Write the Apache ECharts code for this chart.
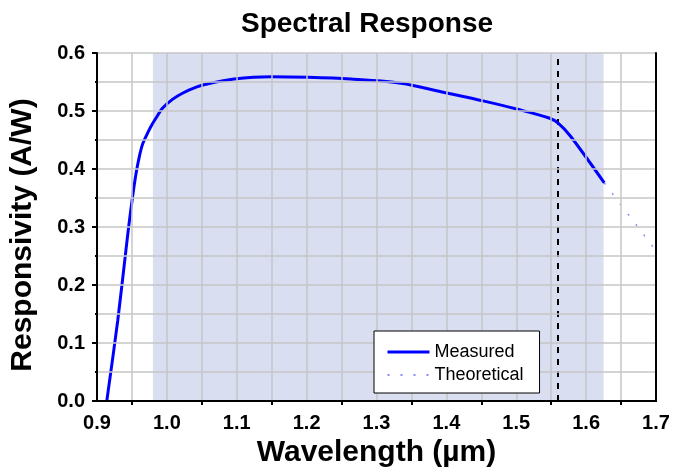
<!DOCTYPE html>
<html>
<head>
<meta charset="utf-8">
<script src="https://cdn.jsdelivr.net/npm/echarts@6/dist/echarts.min.js"></script>
<style>
  html, body { margin: 0; padding: 0; background: #fff; }
  #chart { width: 673px; height: 473px; }
</style>
</head>
<body>
<div id="chart"></div>
<script>
// wavelength (µm) / responsivity (A/W)
const measuredX = [0.914, 0.9296, 0.9415, 0.946, 0.951, 0.956, 0.9605, 0.965, 0.970, 0.977,
  0.984, 0.994, 1.008, 1.023, 1.042, 1.056, 1.096, 1.149, 1.202, 1.263,
  1.335, 1.397, 1.454, 1.502, 1.547, 1.560, 1.578, 1.626]
const measuredY = [0, 0.138, 0.261, 0.307, 0.353, 0.393, 0.421, 0.442, 0.456, 0.473,
  0.487, 0.505, 0.520, 0.531, 0.541, 0.546, 0.555, 0.559, 0.558, 0.555,
  0.548, 0.532, 0.517, 0.503, 0.488, 0.479, 0.456, 0.376]
const theoreticalX = [1.626, 1.70]
const theoreticalY = [0.376, 0.259]
const shadeRange = [0.98, 1.625]
const cutoffLine = 1.56

const font = 'Arial, "Liberation Sans", sans-serif'
const zip = (xs, ys) => xs.map((x, i) => [x, ys[i]])

const chart = echarts.init(document.getElementById('chart'))

const frameAxis = {
  axisLine: { show: true, lineStyle: { color: '#000', width: 2 } },
  axisTick: { show: false },
  axisLabel: { show: false },
  splitLine: { show: false },
  z: 10
}

chart.setOption({
  backgroundColor: '#fff',
  animation: false,
  title: {
    text: 'Spectral Response',
    left: 362,
    textAlign: 'center',
    top: 5,
    textStyle: { fontFamily: font, fontWeight: 'bold', fontSize: 28, color: '#000' }
  },
  legend: {
    left: 374,
    top: 331,
    orient: 'vertical',
    backgroundColor: '#fff',
    borderColor: '#000',
    borderWidth: 1,
    borderRadius: 0,
    padding: [12, 16, 9, 12],
    itemWidth: 42,
    itemHeight: 14,
    itemGap: 5,
    itemStyle: { opacity: 0 },
    textStyle: { fontFamily: font, fontSize: 18, lineHeight: 18, color: '#000' },
    data: [
      { name: 'Measured', lineStyle: { width: 3 } },
      { name: 'Theoretical' }
    ],
    z: 20
  },
  grid: { left: 96, right: 17, top: 53, bottom: 71 },
  xAxis: [{
    type: 'value',
    min: 0.9,
    max: 1.7,
    interval: 0.1,
    name: 'Wavelength (µm)',
    nameLocation: 'middle',
    nameGap: 37,
    nameTextStyle: { fontFamily: font, fontWeight: 'bold', fontSize: 30, color: '#000' },
    axisLine: { show: true, onZero: false, lineStyle: { color: '#000', width: 2 } },
    axisTick: { show: false },
    minorTick: { show: true, splitNumber: 2, length: 4, lineStyle: { color: '#000', width: 2 } },
    axisLabel: {
      margin: 12,
      fontFamily: font, fontWeight: 'bold', fontSize: 20, color: '#000',
      formatter: v => v.toFixed(1)
    },
    splitLine: { show: true, lineStyle: { color: '#c6c6c6', width: 1.5 } },
    minorSplitLine: { show: true, lineStyle: { color: '#c6c6c6', width: 1.5 } },
    z: 10
  }, Object.assign({ type: 'value', position: 'top', min: 0.9, max: 1.7 }, frameAxis)],
  yAxis: [{
    type: 'value',
    min: 0,
    max: 0.6,
    interval: 0.1,
    name: 'Responsivity (A/W)',
    nameLocation: 'middle',
    nameGap: 59,
    nameTextStyle: {
      fontFamily: font, fontWeight: 'bold', fontSize: 30, color: '#000',
      padding: [0, 16, 0, 0]
    },
    axisLine: { show: true, onZero: false, lineStyle: { color: '#000', width: 2 } },
    axisTick: { show: true, length: 5, lineStyle: { color: '#000', width: 2 } },
    minorTick: { show: true, splitNumber: 2, length: 2, lineStyle: { color: '#000', width: 2 } },
    axisLabel: {
      margin: 12,
      fontFamily: font, fontWeight: 'bold', fontSize: 20, color: '#000',
      formatter: v => v.toFixed(1)
    },
    splitLine: { show: true, lineStyle: { color: '#c6c6c6', width: 1.5 } },
    minorSplitLine: { show: true, lineStyle: { color: '#c6c6c6', width: 1.5 } },
    z: 10
  }, Object.assign({ type: 'value', position: 'right', min: 0, max: 0.6 }, frameAxis)],
  series: [
    {
      name: 'Measured',
      type: 'line',
      data: zip(measuredX, measuredY),
      smooth: 0.3,
      symbol: 'none',
      lineStyle: { color: '#0000ff', width: 3 },
      itemStyle: { color: '#0000ff' },
      z: 5,
      markArea: {
        silent: true,
        itemStyle: { color: 'rgba(196,206,234,0.65)' },
        data: [[{ xAxis: shadeRange[0] }, { xAxis: shadeRange[1] }]]
      },
      markLine: {
        silent: true,
        symbol: 'none',
        label: { show: false },
        lineStyle: { color: '#000', type: [6, 6], width: 2 },
        data: [{ xAxis: cutoffLine }]
      }
    },
    {
      name: 'Theoretical',
      type: 'line',
      data: zip(theoreticalX, theoreticalY),
      symbol: 'none',
      lineStyle: { color: '#8c8cf5', width: 1.5, type: [2, 11] },
      itemStyle: { color: '#8c8cf5' },
      z: 5
    }
  ]
})
</script>
</body>
</html>
